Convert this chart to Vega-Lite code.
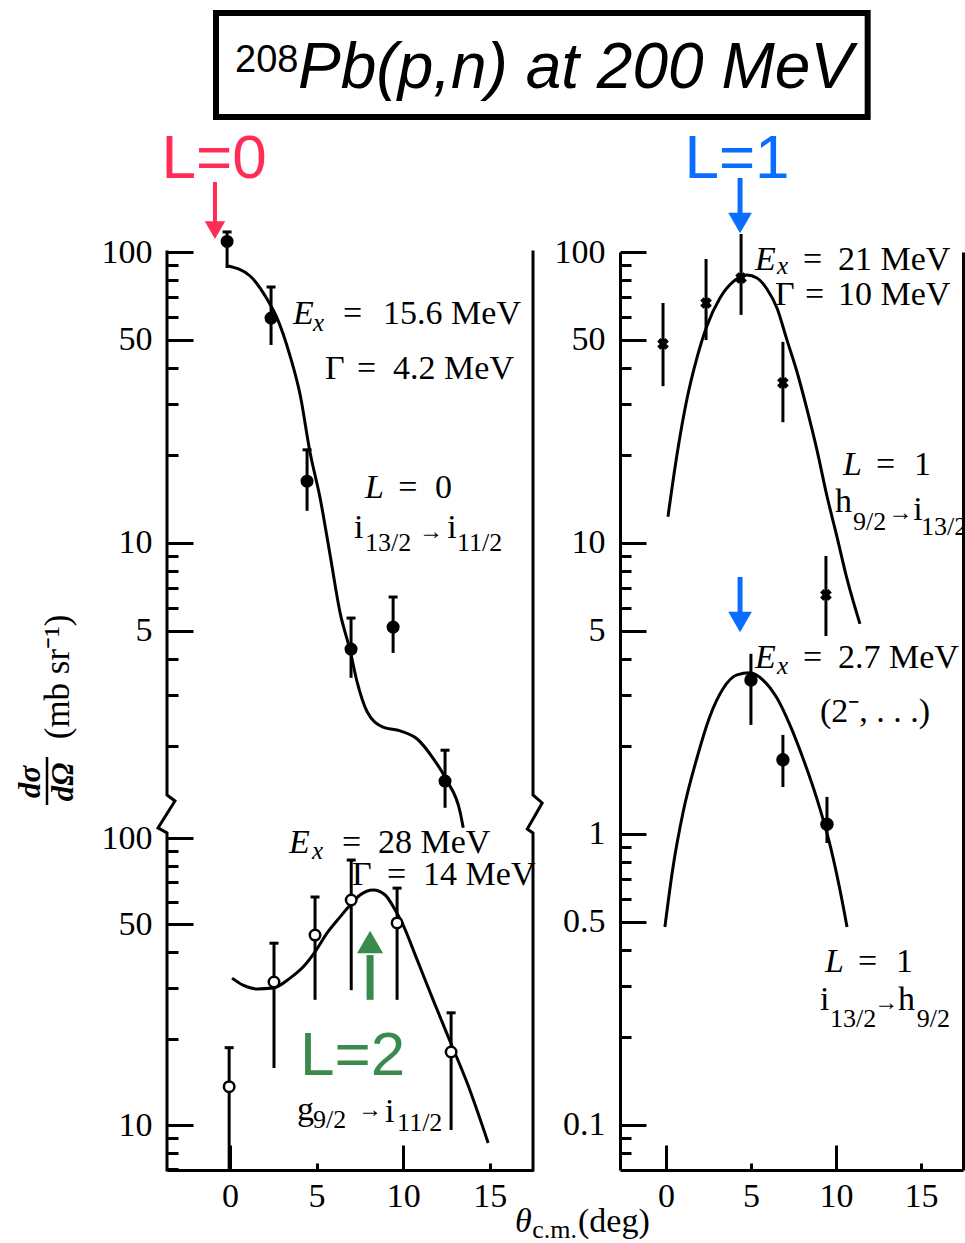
{
  "$schema": "https://vega.github.io/schema/vega-lite/v6.json",
  "background": "white",
  "padding": {"left": 14, "top": 10, "right": 0, "bottom": 0},
  "bounds": "flush",
  "spacing": 87,
  "resolve": {"scale": {"x": "independent", "y": "independent"}},
  "config": {
    "view": {"stroke": null},
    "axis": {"grid": false, "domainColor": "black", "tickColor": "black", "labelColor": "black"}
  },
  "datasets": {
    "curves": [
      {"panel": "lt", "x": -0.12, "y": 89.5}, {"panel": "lt", "x": 1.16, "y": 82.7}, {"panel": "lt", "x": 2.14, "y": 68.9},
      {"panel": "lt", "x": 2.72, "y": 59.3}, {"panel": "lt", "x": 3.47, "y": 43.9}, {"panel": "lt", "x": 4.05, "y": 32.3},
      {"panel": "lt", "x": 4.62, "y": 20.5}, {"panel": "lt", "x": 5.2, "y": 14.3}, {"panel": "lt", "x": 5.78, "y": 9.09},
      {"panel": "lt", "x": 6.36, "y": 5.75}, {"panel": "lt", "x": 6.94, "y": 4.26}, {"panel": "lt", "x": 7.34, "y": 3.33},
      {"panel": "lt", "x": 7.92, "y": 2.63}, {"panel": "lt", "x": 8.84, "y": 2.33}, {"panel": "lt", "x": 9.83, "y": 2.26},
      {"panel": "lt", "x": 10.81, "y": 2.12}, {"panel": "lt", "x": 11.73, "y": 1.82}, {"panel": "lt", "x": 12.54, "y": 1.52},
      {"panel": "lt", "x": 13.29, "y": 1.19}, {"panel": "lt", "x": 13.47, "y": 1.05},
      {"panel": "lb", "x": 0.12, "y": 32.5}, {"panel": "lb", "x": 0.75, "y": 30.7}, {"panel": "lb", "x": 1.56, "y": 29.8},
      {"panel": "lb", "x": 2.49, "y": 30.0}, {"panel": "lb", "x": 3.47, "y": 32.5}, {"panel": "lb", "x": 4.22, "y": 35.5},
      {"panel": "lb", "x": 4.91, "y": 40.1}, {"panel": "lb", "x": 5.61, "y": 46.7}, {"panel": "lb", "x": 6.36, "y": 53.1},
      {"panel": "lb", "x": 6.94, "y": 58.4}, {"panel": "lb", "x": 7.51, "y": 63.3}, {"panel": "lb", "x": 8.27, "y": 65.9},
      {"panel": "lb", "x": 8.96, "y": 63.3}, {"panel": "lb", "x": 9.54, "y": 56.1}, {"panel": "lb", "x": 9.94, "y": 50.6},
      {"panel": "lb", "x": 10.81, "y": 37.6}, {"panel": "lb", "x": 11.73, "y": 27.3}, {"panel": "lb", "x": 12.72, "y": 19.5},
      {"panel": "lb", "x": 13.7, "y": 14.0}, {"panel": "lb", "x": 14.91, "y": 8.66},
      {"panel": "ru", "x": 0.12, "y": 12.3}, {"panel": "ru", "x": 0.65, "y": 20.1}, {"panel": "ru", "x": 1.24, "y": 31.3},
      {"panel": "ru", "x": 1.82, "y": 43.2}, {"panel": "ru", "x": 2.41, "y": 55.7}, {"panel": "ru", "x": 3.18, "y": 69.5},
      {"panel": "ru", "x": 3.94, "y": 78.9}, {"panel": "ru", "x": 4.76, "y": 83.4}, {"panel": "ru", "x": 5.35, "y": 81.4},
      {"panel": "ru", "x": 5.94, "y": 74.6}, {"panel": "ru", "x": 6.53, "y": 64.2}, {"panel": "ru", "x": 7.12, "y": 49.8},
      {"panel": "ru", "x": 7.71, "y": 38.7}, {"panel": "ru", "x": 8.29, "y": 28.9}, {"panel": "ru", "x": 8.88, "y": 20.9},
      {"panel": "ru", "x": 9.47, "y": 14.5}, {"panel": "ru", "x": 10.06, "y": 10.5}, {"panel": "ru", "x": 10.65, "y": 7.52},
      {"panel": "ru", "x": 11.41, "y": 5.27},
      {"panel": "rl", "x": -0.06, "y": 0.479}, {"panel": "rl", "x": 0.41, "y": 0.764}, {"panel": "rl", "x": 1.0, "y": 1.18},
      {"panel": "rl", "x": 1.82, "y": 1.82}, {"panel": "rl", "x": 2.59, "y": 2.54}, {"panel": "rl", "x": 3.35, "y": 3.15},
      {"panel": "rl", "x": 4.18, "y": 3.52}, {"panel": "rl", "x": 4.94, "y": 3.58}, {"panel": "rl", "x": 5.71, "y": 3.38},
      {"panel": "rl", "x": 6.53, "y": 2.93}, {"panel": "rl", "x": 7.29, "y": 2.37}, {"panel": "rl", "x": 8.06, "y": 1.82},
      {"panel": "rl", "x": 8.88, "y": 1.32}, {"panel": "rl", "x": 9.65, "y": 0.917}, {"panel": "rl", "x": 10.41, "y": 0.57},
      {"panel": "rl", "x": 10.65, "y": 0.479}
    ],
    "points": [
      {"panel": "lt", "x": -0.17, "y": 108.7, "lo": 88.1, "hi": 117.2},
      {"panel": "lt", "x": 2.37, "y": 59.3, "lo": 47.9, "hi": 75.8},
      {"panel": "lt", "x": 4.45, "y": 16.3, "lo": 12.9, "hi": 20.9},
      {"panel": "lt", "x": 6.99, "y": 4.32, "lo": 3.44, "hi": 5.52},
      {"panel": "lt", "x": 9.42, "y": 5.14, "lo": 4.19, "hi": 6.52},
      {"panel": "lt", "x": 12.42, "y": 1.52, "lo": 1.23, "hi": 1.94},
      {"panel": "lb", "x": -0.05, "y": 13.6, "lo": 7.0, "hi": 18.6},
      {"panel": "lb", "x": 2.54, "y": 31.5, "lo": 15.8, "hi": 43.0},
      {"panel": "lb", "x": 4.91, "y": 45.9, "lo": 27.3, "hi": 62.3},
      {"panel": "lb", "x": 7.0, "y": 60.8, "lo": 29.5, "hi": 83.8},
      {"panel": "lb", "x": 9.65, "y": 50.6, "lo": 27.3, "hi": 66.9},
      {"panel": "lb", "x": 12.77, "y": 17.96, "lo": 9.61, "hi": 24.6},
      {"panel": "ru", "x": -0.17, "y": 48.3, "lo": 34.6, "hi": 66.8},
      {"panel": "ru", "x": 2.36, "y": 66.8, "lo": 49.8, "hi": 94.6},
      {"panel": "ru", "x": 4.42, "y": 81.4, "lo": 60.8, "hi": 115.3},
      {"panel": "ru", "x": 6.88, "y": 35.5, "lo": 26.0, "hi": 49.1},
      {"panel": "ru", "x": 9.41, "y": 6.63, "lo": 4.79, "hi": 9.02},
      {"panel": "rl", "x": 5.0, "y": 3.38, "lo": 2.37, "hi": 4.16},
      {"panel": "rl", "x": 6.88, "y": 1.8, "lo": 1.45, "hi": 2.19},
      {"panel": "rl", "x": 9.47, "y": 1.08, "lo": 0.931, "hi": 1.34}
    ],
    "frame": [
      {"side": "l", "i": 0, "x": -3.64, "y": 100}, {"side": "l", "i": 1, "x": -3.64, "y": 1.361},
      {"side": "l", "i": 2, "x": -3.18, "y": 1.298}, {"side": "l", "i": 3, "x": -4.16, "y": 1.049},
      {"side": "l", "i": 4, "x": -3.64, "y": 1.008}, {"side": "l", "i": 5, "x": -3.64, "y": 0.07},
      {"side": "r", "i": 0, "x": 17.5, "y": 100}, {"side": "r", "i": 1, "x": 17.5, "y": 1.361},
      {"side": "r", "i": 2, "x": 18.03, "y": 1.278}, {"side": "r", "i": 3, "x": 17.17, "y": 1.04},
      {"side": "r", "i": 4, "x": 17.5, "y": 1.008}, {"side": "r", "i": 5, "x": 17.5, "y": 0.07}
    ],
    "roman": [
      {"panel": "lt", "x": 6.53, "y": 56.56, "t": "="}, {"panel": "lt", "x": 8.84, "y": 56.56, "t": "15.6 MeV"},
      {"panel": "lt", "x": 5.49, "y": 36.61, "t": "Γ"}, {"panel": "lt", "x": 7.34, "y": 36.61, "t": "="},
      {"panel": "lt", "x": 9.42, "y": 36.61, "t": "4.2 MeV"}, {"panel": "lt", "x": 9.71, "y": 14.28, "t": "="},
      {"panel": "lt", "x": 11.84, "y": 14.28, "t": "0"}, {"panel": "lt", "x": 7.16, "y": 10.4, "t": "i"},
      {"panel": "lt", "x": 12.54, "y": 10.4, "t": "i"},
      {"panel": "lb", "x": 6.47, "y": 88.65, "t": "="}, {"panel": "lb", "x": 8.55, "y": 88.65, "t": "28 MeV"},
      {"panel": "lb", "x": 7.05, "y": 68.6, "t": "Γ"}, {"panel": "lb", "x": 9.07, "y": 68.6, "t": "="},
      {"panel": "lb", "x": 11.15, "y": 68.6, "t": "14 MeV"}, {"panel": "lb", "x": 3.87, "y": 10.41, "t": "g"},
      {"panel": "lb", "x": 8.95, "y": 10.24, "t": "i"}, {"panel": "lb", "x": 20.1, "y": 4.24, "t": "(deg)"},
      {"panel": "r", "x": 8.06, "y": 86.7, "t": "="}, {"panel": "r", "x": 10.12, "y": 86.7, "t": "21 MeV"},
      {"panel": "r", "x": 6.41, "y": 65.75, "t": "Γ"}, {"panel": "r", "x": 8.18, "y": 65.75, "t": "="},
      {"panel": "r", "x": 10.12, "y": 65.75, "t": "10 MeV"}, {"panel": "r", "x": 12.35, "y": 17.13, "t": "="},
      {"panel": "r", "x": 14.59, "y": 17.13, "t": "1"}, {"panel": "r", "x": 9.94, "y": 12.78, "t": "h"},
      {"panel": "r", "x": 14.55, "y": 12.0, "t": "i"}, {"panel": "r", "x": 8.06, "y": 3.72, "t": "="},
      {"panel": "r", "x": 10.12, "y": 3.72, "t": "2.7 MeV"}, {"panel": "r", "x": 9.06, "y": 2.43, "t": "(2⁻, . . .)"},
      {"panel": "r", "x": 11.29, "y": 0.3356, "t": "="}, {"panel": "r", "x": 13.53, "y": 0.3356, "t": "1"},
      {"panel": "r", "x": 9.06, "y": 0.2484, "t": "i"}, {"panel": "r", "x": 13.65, "y": 0.2484, "t": "h"}
    ],
    "italic": [
      {"panel": "lt", "x": 3.64, "y": 56.56, "t": "E"}, {"panel": "lt", "x": 7.8, "y": 14.28, "t": "L"},
      {"panel": "lb", "x": 3.41, "y": 88.65, "t": "E"}, {"panel": "lb", "x": 16.46, "y": 4.24, "t": "θ"},
      {"panel": "r", "x": 5.24, "y": 86.7, "t": "E"}, {"panel": "r", "x": 10.41, "y": 17.13, "t": "L"},
      {"panel": "r", "x": 5.24, "y": 3.72, "t": "E"}, {"panel": "r", "x": 9.35, "y": 0.3356, "t": "L"}
    ],
    "isubs": [
      {"panel": "lt", "x": 4.79, "y": 53.52, "t": "x"}, {"panel": "lb", "x": 4.74, "y": 84.52, "t": "x"},
      {"panel": "r", "x": 6.53, "y": 84.0, "t": "x"}, {"panel": "r", "x": 6.53, "y": 3.55, "t": "x"}
    ],
    "subs": [
      {"panel": "lt", "x": 7.8, "y": 9.39, "t": "13/2"}, {"panel": "lt", "x": 13.11, "y": 9.39, "t": "11/2"},
      {"panel": "lb", "x": 4.79, "y": 9.76, "t": "9/2"}, {"panel": "lb", "x": 9.65, "y": 9.53, "t": "11/2"},
      {"panel": "lb", "x": 17.45, "y": 4.04, "t": "c.m."},
      {"panel": "r", "x": 11.0, "y": 11.08, "t": "9/2"}, {"panel": "r", "x": 15.0, "y": 10.65, "t": "13/2"},
      {"panel": "r", "x": 9.65, "y": 0.2172, "t": "13/2"}, {"panel": "r", "x": 14.75, "y": 0.2172, "t": "9/2"}
    ],
    "arrows": [
      {"panel": "lt", "x": 11.61, "y": 10.91, "t": "→"}, {"panel": "lb", "x": 8.09, "y": 11.28, "t": "→"},
      {"panel": "r", "x": 13.8, "y": 12.68, "t": "→"}, {"panel": "r", "x": 12.95, "y": 0.2625, "t": "→"}
    ],
    "notes": [
      {"panel": "lt", "L": "0", "x": -0.92, "y": 179.6, "t": "L=0"},
      {"panel": "r", "L": "1", "x": 4.18, "y": 179.6, "t": "L=1"},
      {"panel": "lb", "L": "2", "x": 7.08, "y": 14.94, "t": "L=2"}
    ],
    "shafts": [
      {"panel": "lt", "L": "0", "x": -0.87, "y": 174.0, "y2": 126.8},
      {"panel": "r", "L": "1", "x": 4.36, "y": 179.6, "y2": 135.1},
      {"panel": "r", "L": "1", "x": 4.36, "y": 7.64, "y2": 5.79},
      {"panel": "lb", "L": "2", "x": 8.09, "y": 27.3, "y2": 39.1}
    ],
    "heads": [
      {"panel": "lt", "L": "0", "x": -0.87, "y": 119.0, "dir": "down"},
      {"panel": "r", "L": "1", "x": 4.36, "y": 125.8, "dir": "down"},
      {"panel": "r", "L": "1", "x": 4.36, "y": 5.35, "dir": "down"},
      {"panel": "lb", "L": "2", "x": 8.09, "y": 43.4, "dir": "up"}
    ],
    "box": [{"x": -0.81, "x2": 36.83, "y": 662.7, "y2": 290.9}],
    "heading": [{"x": 3.93, "y": 366.1, "t": "Pb(p,n) at 200 MeV"}],
    "headingSup": [{"x": 0.29, "y": 415.6, "t": "208"}],
    "ytitleItalic": [{"x": -11.5, "y": 1.509, "t": "dσ"}, {"x": -9.59, "y": 1.509, "t": "dΩ"}],
    "ytitleRoman": [{"x": -9.94, "y": 3.463, "t": "(mb sr⁻¹)"}],
    "ytitleBar": [{"x": -10.57, "y": 1.839, "y2": 1.258}]
  },
  "hconcat": [
    {
      "width": 366,
      "height": 918,
      "resolve": {"scale": {"y": "independent"}, "axis": {"x": "independent", "y": "independent"}},
      "layer": [
        {
          "resolve": {"axis": {"y": "independent"}},
          "layer": [
            {
              "data": {"name": "curves"},
              "transform": [{"filter": "datum.panel === 'lt'"}],
              "mark": {"type": "line", "interpolate": "monotone", "color": "black", "strokeWidth": 3},
              "encoding": {
                "x": {"field": "x", "type": "quantitative", "scale": {"domain": [-3.64, 17.5], "nice": false, "zero": false}, "axis": null},
                "y": {"field": "y", "type": "quantitative", "scale": {"type": "log", "domain": [0.07, 100], "nice": false},
                  "axis": {"orient": "left", "values": [5, 10, 50, 100], "tickSize": -26, "tickWidth": 3, "domain": false, "labelFont": "Liberation Serif", "labelFontSize": 34, "labelPadding": 41, "labelOverlap": false, "labelBound": false, "labelFlush": false, "title": null, "labelExpr": "datum.value"}}
              }
            },
            {
              "data": {"name": "points"},
              "transform": [{"filter": "datum.panel === 'lt'"}],
              "mark": {"type": "rule", "color": "black", "strokeWidth": 3},
              "encoding": {
                "x": {"field": "x", "type": "quantitative", "axis": null},
                "y": {"field": "lo", "type": "quantitative", "axis": {"orient": "left", "values": [2, 3, 4, 6, 7, 8, 9, 20, 30, 40, 60, 70, 80, 90], "tickSize": -11, "tickWidth": 3, "labels": false, "domain": false, "title": null}},
                "y2": {"field": "hi"}
              }
            },
            {
              "data": {"name": "points"},
              "transform": [{"filter": "datum.panel === 'lt'"}],
              "mark": {"type": "tick", "orient": "horizontal", "size": 9, "thickness": 3, "color": "black", "opacity": 1},
              "encoding": {
                "x": {"field": "x", "type": "quantitative", "axis": null},
                "y": {"field": "hi", "type": "quantitative", "axis": null}
              }
            },
            {
              "data": {"name": "points"},
              "transform": [{"filter": "datum.panel === 'lt'"}],
              "mark": {"type": "point", "shape": "circle", "filled": true, "color": "black", "size": 170, "opacity": 1},
              "encoding": {
                "x": {"field": "x", "type": "quantitative", "axis": null},
                "y": {"field": "y", "type": "quantitative", "axis": null}
              }
            },
            {
              "data": {"name": "frame"},
              "mark": {"type": "line", "color": "black", "strokeWidth": 3, "strokeCap": "square"},
              "encoding": {
                "x": {"field": "x", "type": "quantitative", "axis": null},
                "y": {"field": "y", "type": "quantitative", "axis": null},
                "detail": {"field": "side"},
                "order": {"field": "i"}
              }
            },
            {
              "data": {"name": "roman"},
              "transform": [{"filter": "datum.panel === 'lt'"}],
              "mark": {"type": "text", "align": "left", "baseline": "alphabetic", "font": "Liberation Serif", "fontSize": 34, "color": "black"},
              "encoding": {"x": {"field": "x", "type": "quantitative", "axis": null}, "y": {"field": "y", "type": "quantitative", "axis": null}, "text": {"field": "t"}}
            },
            {
              "data": {"name": "italic"},
              "transform": [{"filter": "datum.panel === 'lt'"}],
              "mark": {"type": "text", "align": "left", "baseline": "alphabetic", "font": "Liberation Serif", "fontStyle": "italic", "fontSize": 34, "color": "black"},
              "encoding": {"x": {"field": "x", "type": "quantitative", "axis": null}, "y": {"field": "y", "type": "quantitative", "axis": null}, "text": {"field": "t"}}
            },
            {
              "data": {"name": "isubs"},
              "transform": [{"filter": "datum.panel === 'lt'"}],
              "mark": {"type": "text", "align": "left", "baseline": "alphabetic", "font": "Liberation Serif", "fontStyle": "italic", "fontSize": 25, "color": "black"},
              "encoding": {"x": {"field": "x", "type": "quantitative", "axis": null}, "y": {"field": "y", "type": "quantitative", "axis": null}, "text": {"field": "t"}}
            },
            {
              "data": {"name": "subs"},
              "transform": [{"filter": "datum.panel === 'lt'"}],
              "mark": {"type": "text", "align": "left", "baseline": "alphabetic", "font": "Liberation Serif", "fontSize": 26, "color": "black"},
              "encoding": {"x": {"field": "x", "type": "quantitative", "axis": null}, "y": {"field": "y", "type": "quantitative", "axis": null}, "text": {"field": "t"}}
            },
            {
              "data": {"name": "arrows"},
              "transform": [{"filter": "datum.panel === 'lt'"}],
              "mark": {"type": "text", "align": "center", "baseline": "middle", "font": "Liberation Serif", "fontSize": 24, "fontWeight": "bold", "color": "black"},
              "encoding": {"x": {"field": "x", "type": "quantitative", "axis": null}, "y": {"field": "y", "type": "quantitative", "axis": null}, "text": {"field": "t"}}
            },
            {
              "data": {"name": "notes"},
              "transform": [{"filter": "datum.panel === 'lt'"}],
              "mark": {"type": "text", "align": "center", "baseline": "alphabetic", "font": "Liberation Sans", "fontSize": 62},
              "encoding": {
                "x": {"field": "x", "type": "quantitative", "axis": null}, "y": {"field": "y", "type": "quantitative", "axis": null}, "text": {"field": "t"},
                "color": {"field": "L", "type": "nominal", "scale": {"domain": ["0", "1", "2"], "range": ["#ff2d55", "#0a6dff", "#3a8a4c"]}, "legend": null}
              }
            },
            {
              "data": {"name": "shafts"},
              "transform": [{"filter": "datum.panel === 'lt'"}],
              "mark": {"type": "rule", "strokeWidth": 4},
              "encoding": {
                "x": {"field": "x", "type": "quantitative", "axis": null}, "y": {"field": "y", "type": "quantitative", "axis": null}, "y2": {"field": "y2"},
                "color": {"field": "L", "type": "nominal", "scale": {"domain": ["0", "1", "2"], "range": ["#ff2d55", "#0a6dff", "#3a8a4c"]}, "legend": null}
              }
            },
            {
              "data": {"name": "heads"},
              "transform": [{"filter": "datum.panel === 'lt'"}],
              "mark": {"type": "point", "filled": true, "size": 420, "opacity": 1},
              "encoding": {
                "x": {"field": "x", "type": "quantitative", "axis": null}, "y": {"field": "y", "type": "quantitative", "axis": null},
                "shape": {"field": "dir", "type": "nominal", "scale": {"domain": ["down", "up"], "range": ["triangle-down", "triangle-up"]}, "legend": null},
                "color": {"field": "L", "type": "nominal", "scale": {"domain": ["0", "1", "2"], "range": ["#ff2d55", "#0a6dff", "#3a8a4c"]}, "legend": null}
              }
            },
            {
              "data": {"name": "box"},
              "mark": {"type": "rect", "filled": false, "color": "black", "strokeWidth": 6},
              "encoding": {
                "x": {"field": "x", "type": "quantitative", "axis": null}, "x2": {"field": "x2"},
                "y": {"field": "y", "type": "quantitative", "axis": null}, "y2": {"field": "y2"}
              }
            },
            {
              "data": {"name": "heading"},
              "mark": {"type": "text", "align": "left", "baseline": "alphabetic", "font": "Liberation Sans", "fontStyle": "italic", "fontSize": 64, "color": "black"},
              "encoding": {"x": {"field": "x", "type": "quantitative", "axis": null}, "y": {"field": "y", "type": "quantitative", "axis": null}, "text": {"field": "t"}}
            },
            {
              "data": {"name": "headingSup"},
              "mark": {"type": "text", "align": "left", "baseline": "alphabetic", "font": "Liberation Sans", "fontSize": 38, "color": "black"},
              "encoding": {"x": {"field": "x", "type": "quantitative", "axis": null}, "y": {"field": "y", "type": "quantitative", "axis": null}, "text": {"field": "t"}}
            },
            {
              "data": {"name": "ytitleItalic"},
              "mark": {"type": "text", "align": "center", "baseline": "middle", "angle": 270, "font": "Liberation Serif", "fontStyle": "italic", "fontWeight": "bold", "fontSize": 31, "color": "black"},
              "encoding": {"x": {"field": "x", "type": "quantitative", "axis": null}, "y": {"field": "y", "type": "quantitative", "axis": null}, "text": {"field": "t"}}
            },
            {
              "data": {"name": "ytitleRoman"},
              "mark": {"type": "text", "align": "center", "baseline": "middle", "angle": 270, "font": "Liberation Serif", "fontSize": 35, "color": "black"},
              "encoding": {"x": {"field": "x", "type": "quantitative", "axis": null}, "y": {"field": "y", "type": "quantitative", "axis": null}, "text": {"field": "t"}}
            },
            {
              "data": {"name": "ytitleBar"},
              "mark": {"type": "rule", "color": "black", "strokeWidth": 2.5},
              "encoding": {"x": {"field": "x", "type": "quantitative", "axis": null}, "y": {"field": "y", "type": "quantitative", "axis": null}, "y2": {"field": "y2"}}
            }
          ]
        },
        {
          "resolve": {"axis": {"x": "independent", "y": "independent"}},
          "layer": [
            {
              "data": {"name": "curves"},
              "transform": [{"filter": "datum.panel === 'lb'"}],
              "mark": {"type": "line", "interpolate": "monotone", "color": "black", "strokeWidth": 3},
              "encoding": {
                "x": {"field": "x", "type": "quantitative", "scale": {"domain": [-3.64, 17.5], "nice": false, "zero": false},
                  "axis": {"orient": "bottom", "values": [0, 5, 10, 15], "tickSize": -7, "tickWidth": 3, "domainWidth": 3, "labelFont": "Liberation Serif", "labelFontSize": 34, "labelPadding": 16, "labelOverlap": false, "labelBound": false, "labelFlush": false, "title": null, "labelExpr": "datum.value"}},
                "y": {"field": "y", "type": "quantitative", "scale": {"type": "log", "domain": [6.97, 11012], "nice": false},
                  "axis": {"orient": "left", "values": [10, 50, 100], "tickSize": -26, "tickWidth": 3, "domain": false, "labelFont": "Liberation Serif", "labelFontSize": 34, "labelPadding": 41, "labelOverlap": false, "labelBound": false, "labelFlush": false, "title": null, "labelExpr": "datum.value"}}
              }
            },
            {
              "data": {"name": "points"},
              "transform": [{"filter": "datum.panel === 'lb'"}],
              "mark": {"type": "rule", "color": "black", "strokeWidth": 3},
              "encoding": {
                "x": {"field": "x", "type": "quantitative", "axis": {"orient": "bottom", "values": [0, 10], "tickSize": -25, "tickWidth": 3, "labels": false, "domain": false, "title": null}},
                "y": {"field": "lo", "type": "quantitative", "axis": {"orient": "left", "values": [7, 8, 9, 20, 30, 40, 60, 70, 80, 90], "tickSize": -11, "tickWidth": 3, "labels": false, "domain": false, "title": null}},
                "y2": {"field": "hi"}
              }
            },
            {
              "data": {"name": "points"},
              "transform": [{"filter": "datum.panel === 'lb'"}],
              "mark": {"type": "tick", "orient": "horizontal", "size": 9, "thickness": 3, "color": "black", "opacity": 1},
              "encoding": {
                "x": {"field": "x", "type": "quantitative", "axis": null},
                "y": {"field": "hi", "type": "quantitative", "axis": null}
              }
            },
            {
              "data": {"name": "points"},
              "transform": [{"filter": "datum.panel === 'lb'"}],
              "mark": {"type": "point", "shape": "circle", "filled": true, "fill": "white", "stroke": "black", "strokeWidth": 2.5, "size": 110, "opacity": 1},
              "encoding": {
                "x": {"field": "x", "type": "quantitative", "axis": null},
                "y": {"field": "y", "type": "quantitative", "axis": null}
              }
            },
            {
              "data": {"name": "roman"},
              "transform": [{"filter": "datum.panel === 'lb'"}],
              "mark": {"type": "text", "align": "left", "baseline": "alphabetic", "font": "Liberation Serif", "fontSize": 34, "color": "black"},
              "encoding": {"x": {"field": "x", "type": "quantitative", "axis": null}, "y": {"field": "y", "type": "quantitative", "axis": null}, "text": {"field": "t"}}
            },
            {
              "data": {"name": "italic"},
              "transform": [{"filter": "datum.panel === 'lb'"}],
              "mark": {"type": "text", "align": "left", "baseline": "alphabetic", "font": "Liberation Serif", "fontStyle": "italic", "fontSize": 34, "color": "black"},
              "encoding": {"x": {"field": "x", "type": "quantitative", "axis": null}, "y": {"field": "y", "type": "quantitative", "axis": null}, "text": {"field": "t"}}
            },
            {
              "data": {"name": "isubs"},
              "transform": [{"filter": "datum.panel === 'lb'"}],
              "mark": {"type": "text", "align": "left", "baseline": "alphabetic", "font": "Liberation Serif", "fontStyle": "italic", "fontSize": 25, "color": "black"},
              "encoding": {"x": {"field": "x", "type": "quantitative", "axis": null}, "y": {"field": "y", "type": "quantitative", "axis": null}, "text": {"field": "t"}}
            },
            {
              "data": {"name": "subs"},
              "transform": [{"filter": "datum.panel === 'lb'"}],
              "mark": {"type": "text", "align": "left", "baseline": "alphabetic", "font": "Liberation Serif", "fontSize": 26, "color": "black"},
              "encoding": {"x": {"field": "x", "type": "quantitative", "axis": null}, "y": {"field": "y", "type": "quantitative", "axis": null}, "text": {"field": "t"}}
            },
            {
              "data": {"name": "arrows"},
              "transform": [{"filter": "datum.panel === 'lb'"}],
              "mark": {"type": "text", "align": "center", "baseline": "middle", "font": "Liberation Serif", "fontSize": 24, "fontWeight": "bold", "color": "black"},
              "encoding": {"x": {"field": "x", "type": "quantitative", "axis": null}, "y": {"field": "y", "type": "quantitative", "axis": null}, "text": {"field": "t"}}
            },
            {
              "data": {"name": "notes"},
              "transform": [{"filter": "datum.panel === 'lb'"}],
              "mark": {"type": "text", "align": "center", "baseline": "alphabetic", "font": "Liberation Sans", "fontSize": 62},
              "encoding": {
                "x": {"field": "x", "type": "quantitative", "axis": null}, "y": {"field": "y", "type": "quantitative", "axis": null}, "text": {"field": "t"},
                "color": {"field": "L", "type": "nominal", "scale": {"domain": ["0", "1", "2"], "range": ["#ff2d55", "#0a6dff", "#3a8a4c"]}, "legend": null}
              }
            },
            {
              "data": {"name": "shafts"},
              "transform": [{"filter": "datum.panel === 'lb'"}],
              "mark": {"type": "rule", "strokeWidth": 7},
              "encoding": {
                "x": {"field": "x", "type": "quantitative", "axis": null}, "y": {"field": "y", "type": "quantitative", "axis": null}, "y2": {"field": "y2"},
                "color": {"field": "L", "type": "nominal", "scale": {"domain": ["0", "1", "2"], "range": ["#ff2d55", "#0a6dff", "#3a8a4c"]}, "legend": null}
              }
            },
            {
              "data": {"name": "heads"},
              "transform": [{"filter": "datum.panel === 'lb'"}],
              "mark": {"type": "point", "filled": true, "size": 680, "opacity": 1},
              "encoding": {
                "x": {"field": "x", "type": "quantitative", "axis": null}, "y": {"field": "y", "type": "quantitative", "axis": null},
                "shape": {"field": "dir", "type": "nominal", "scale": {"domain": ["down", "up"], "range": ["triangle-down", "triangle-up"]}, "legend": null},
                "color": {"field": "L", "type": "nominal", "scale": {"domain": ["0", "1", "2"], "range": ["#ff2d55", "#0a6dff", "#3a8a4c"]}, "legend": null}
              }
            }
          ]
        }
      ]
    },
    {
      "width": 343,
      "height": 918,
      "resolve": {"axis": {"x": "independent", "y": "independent"}},
      "layer": [
        {
          "data": {"name": "curves"},
          "transform": [{"filter": "datum.panel === 'ru' || datum.panel === 'rl'"}],
          "mark": {"type": "line", "interpolate": "monotone", "color": "black", "strokeWidth": 3},
          "encoding": {
            "x": {"field": "x", "type": "quantitative", "scale": {"domain": [-2.7, 17.47], "nice": false, "zero": false},
              "axis": {"orient": "bottom", "values": [0, 5, 10, 15], "tickSize": -7, "tickWidth": 3, "domainWidth": 3, "labelFont": "Liberation Serif", "labelFontSize": 34, "labelPadding": 16, "labelOverlap": false, "labelBound": false, "labelFlush": false, "title": null, "labelExpr": "datum.value"}},
            "y": {"field": "y", "type": "quantitative", "scale": {"type": "log", "domain": [0.07, 100], "nice": false},
              "axis": {"orient": "left", "values": [0.1, 0.5, 1, 5, 10, 50, 100], "tickSize": -26, "tickWidth": 3, "domainWidth": 3, "labelFont": "Liberation Serif", "labelFontSize": 34, "labelPadding": 41, "labelOverlap": false, "labelBound": false, "labelFlush": false, "title": null, "labelExpr": "datum.value"}},
            "detail": {"field": "panel"}
          }
        },
        {
          "data": {"name": "points"},
          "transform": [{"filter": "datum.panel === 'ru' || datum.panel === 'rl'"}],
          "mark": {"type": "rule", "color": "black", "strokeWidth": 3},
          "encoding": {
            "x": {"field": "x", "type": "quantitative", "axis": {"orient": "bottom", "values": [0, 10], "tickSize": -25, "tickWidth": 3, "labels": false, "domain": false, "title": null}},
            "y": {"field": "lo", "type": "quantitative", "axis": {"orient": "left", "values": [0.08, 0.09, 0.2, 0.3, 0.4, 0.6, 0.7, 0.8, 0.9, 2, 3, 4, 6, 7, 8, 9, 20, 30, 40, 60, 70, 80, 90], "tickSize": -11, "tickWidth": 3, "labels": false, "domain": false, "title": null}},
            "y2": {"field": "hi"}
          }
        },
        {
          "data": {"name": "points"},
          "transform": [{"filter": "datum.panel === 'ru'"}],
          "mark": {"type": "point", "shape": "cross", "angle": 45, "filled": true, "color": "black", "size": 140, "opacity": 1},
          "encoding": {
            "x": {"field": "x", "type": "quantitative", "axis": null},
            "y": {"field": "y", "type": "quantitative", "axis": {"orient": "right", "domainWidth": 3, "ticks": false, "labels": false, "title": null}}
          }
        },
        {
          "data": {"name": "points"},
          "transform": [{"filter": "datum.panel === 'rl'"}],
          "mark": {"type": "point", "shape": "circle", "filled": true, "color": "black", "size": 180, "opacity": 1},
          "encoding": {
            "x": {"field": "x", "type": "quantitative", "axis": null},
            "y": {"field": "y", "type": "quantitative", "axis": null}
          }
        },
        {
          "data": {"name": "roman"},
          "transform": [{"filter": "datum.panel === 'r'"}],
          "mark": {"type": "text", "align": "left", "baseline": "alphabetic", "font": "Liberation Serif", "fontSize": 34, "color": "black"},
          "encoding": {"x": {"field": "x", "type": "quantitative", "axis": null}, "y": {"field": "y", "type": "quantitative", "axis": null}, "text": {"field": "t"}}
        },
        {
          "data": {"name": "italic"},
          "transform": [{"filter": "datum.panel === 'r'"}],
          "mark": {"type": "text", "align": "left", "baseline": "alphabetic", "font": "Liberation Serif", "fontStyle": "italic", "fontSize": 34, "color": "black"},
          "encoding": {"x": {"field": "x", "type": "quantitative", "axis": null}, "y": {"field": "y", "type": "quantitative", "axis": null}, "text": {"field": "t"}}
        },
        {
          "data": {"name": "isubs"},
          "transform": [{"filter": "datum.panel === 'r'"}],
          "mark": {"type": "text", "align": "left", "baseline": "alphabetic", "font": "Liberation Serif", "fontStyle": "italic", "fontSize": 25, "color": "black"},
          "encoding": {"x": {"field": "x", "type": "quantitative", "axis": null}, "y": {"field": "y", "type": "quantitative", "axis": null}, "text": {"field": "t"}}
        },
        {
          "data": {"name": "subs"},
          "transform": [{"filter": "datum.panel === 'r'"}],
          "mark": {"type": "text", "align": "left", "baseline": "alphabetic", "font": "Liberation Serif", "fontSize": 26, "color": "black"},
          "encoding": {"x": {"field": "x", "type": "quantitative", "axis": null}, "y": {"field": "y", "type": "quantitative", "axis": null}, "text": {"field": "t"}}
        },
        {
          "data": {"name": "arrows"},
          "transform": [{"filter": "datum.panel === 'r'"}],
          "mark": {"type": "text", "align": "center", "baseline": "middle", "font": "Liberation Serif", "fontSize": 24, "fontWeight": "bold", "color": "black"},
          "encoding": {"x": {"field": "x", "type": "quantitative", "axis": null}, "y": {"field": "y", "type": "quantitative", "axis": null}, "text": {"field": "t"}}
        },
        {
          "data": {"name": "notes"},
          "transform": [{"filter": "datum.panel === 'r'"}],
          "mark": {"type": "text", "align": "center", "baseline": "alphabetic", "font": "Liberation Sans", "fontSize": 62},
          "encoding": {
            "x": {"field": "x", "type": "quantitative", "axis": null}, "y": {"field": "y", "type": "quantitative", "axis": null}, "text": {"field": "t"},
            "color": {"field": "L", "type": "nominal", "scale": {"domain": ["0", "1", "2"], "range": ["#ff2d55", "#0a6dff", "#3a8a4c"]}, "legend": null}
          }
        },
        {
          "data": {"name": "shafts"},
          "transform": [{"filter": "datum.panel === 'r'"}],
          "mark": {"type": "rule", "strokeWidth": 5},
          "encoding": {
            "x": {"field": "x", "type": "quantitative", "axis": null}, "y": {"field": "y", "type": "quantitative", "axis": null}, "y2": {"field": "y2"},
            "color": {"field": "L", "type": "nominal", "scale": {"domain": ["0", "1", "2"], "range": ["#ff2d55", "#0a6dff", "#3a8a4c"]}, "legend": null}
          }
        },
        {
          "data": {"name": "heads"},
          "transform": [{"filter": "datum.panel === 'r'"}],
          "mark": {"type": "point", "filled": true, "size": 560, "opacity": 1},
          "encoding": {
            "x": {"field": "x", "type": "quantitative", "axis": null}, "y": {"field": "y", "type": "quantitative", "axis": null},
            "shape": {"field": "dir", "type": "nominal", "scale": {"domain": ["down", "up"], "range": ["triangle-down", "triangle-up"]}, "legend": null},
            "color": {"field": "L", "type": "nominal", "scale": {"domain": ["0", "1", "2"], "range": ["#ff2d55", "#0a6dff", "#3a8a4c"]}, "legend": null}
          }
        }
      ]
    }
  ]
}
